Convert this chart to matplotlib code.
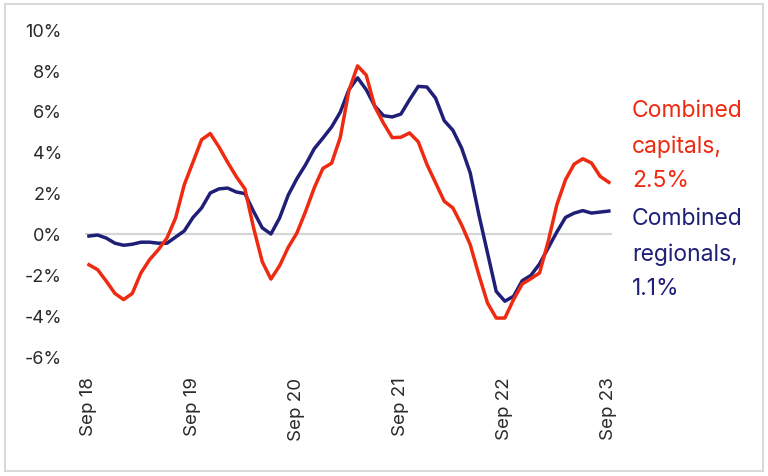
import matplotlib
matplotlib.use("Agg")
import matplotlib.pyplot as plt
import matplotlib.patches as patches
import numpy as np
import pandas as pd

plt.rcParams['font.family'] = ['Inter', 'DejaVu Sans']

# monthly, Sep 2018 .. Sep 2023 (annual change, %)
months = pd.date_range("2018-09-01", "2023-09-01", freq="MS")

capitals = [-1.5, -1.74, -2.3, -2.9, -3.2, -2.9, -1.9, -1.25, -0.77, -0.2, 0.78, 2.4, 3.5,
            4.6, 4.9, 4.25, 3.5, 2.8, 2.2, 0.3, -1.35, -2.2, -1.55, -0.65, 0.05,
            1.1, 2.25, 3.2, 3.45, 4.7, 7.0, 8.2, 7.75, 6.2, 5.4, 4.7, 4.72,
            4.93, 4.5, 3.4, 2.5, 1.6, 1.27, 0.45, -0.52, -2.0, -3.37, -4.1, -4.1,
            -3.2, -2.44, -2.18, -1.9, -0.36, 1.43, 2.65, 3.41, 3.67, 3.46, 2.81, 2.52]

regionals = [-0.1, -0.05, -0.2, -0.45, -0.55, -0.5, -0.4, -0.4, -0.45, -0.45, -0.15, 0.15, 0.8,
             1.27, 2.0, 2.2, 2.24, 2.05, 1.97, 1.1, 0.3, 0.0, 0.78, 1.9, 2.7,
             3.38, 4.16, 4.68, 5.22, 5.94, 7.04, 7.62, 7.04, 6.23, 5.77, 5.71, 5.85,
             6.55, 7.2, 7.17, 6.63, 5.53, 5.06, 4.2, 2.98, 0.94, -0.93, -2.8, -3.28,
             -3.04, -2.28, -2.02, -1.46, -0.68, 0.1, 0.81, 1.02, 1.14, 1.02, 1.07, 1.12]

tick_labels = ["Sep 18", "Sep 19", "Sep 20", "Sep 21", "Sep 22", "Sep 23"]
y_ticks = [-6, -4, -2, 0, 2, 4, 6, 8, 10]

red = "#ee2a10"
navy = "#1f1f78"

fig = plt.figure(figsize=(7.68, 4.77), dpi=100)
ax = fig.add_axes([0.1113, 0.2495, 0.686, 0.6876])

x = np.arange(len(months))
ax.axhline(0, color="#d6d6d6", lw=1.6, zorder=1)
ax.plot(x, capitals, color=red, lw=2.5, zorder=3)
ax.plot(x, regionals, color=navy, lw=2.5, zorder=2)

ax.set_xlim(-0.4, 60.4)
ax.set_ylim(-6, 10)
ax.set_yticks(y_ticks)
ax.set_yticklabels([f"{v}%" for v in y_ticks])
ax.set_xticks(x[::12])
ax.set_xticklabels(tick_labels, rotation=90, va="top", ha="center")
ax.tick_params(axis="y", length=0, pad=17, labelsize=13, labelcolor="#2a2a2a")
ax.tick_params(axis="x", length=0, pad=14, labelsize=13.5, labelcolor="#2a2a2a")
for s in ax.spines.values():
    s.set_visible(False)

# end labels
fig.text(632 / 768, 1 - 100 / 477, "Combined\ncapitals,\n2.5%", color=red,
         fontsize=16.5, va="top", ha="left", linespacing=1.75)
fig.text(632 / 768, 1 - 208 / 477, "Combined\nregionals,\n1.1%", color=navy,
         fontsize=16.5, va="top", ha="left", linespacing=1.75)

# light frame round the whole picture
fig.patches.append(patches.Rectangle((5 / 768, 5 / 477), 758 / 768, 467 / 477,
                                     transform=fig.transFigure, fill=False,
                                     edgecolor="#d9d9d9", lw=1.5))

fig.savefig("out.png", dpi=100)
